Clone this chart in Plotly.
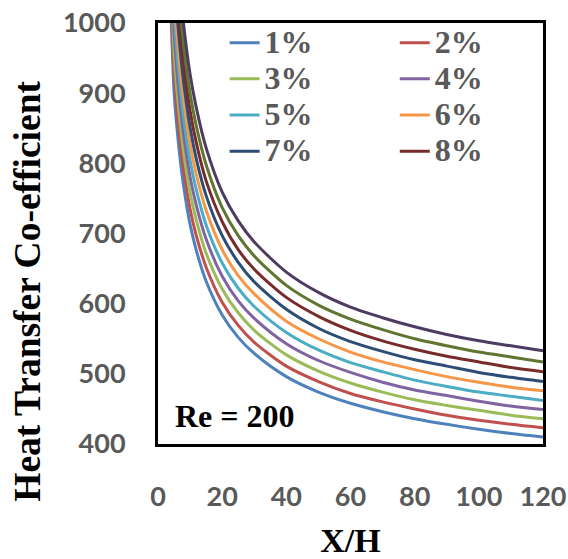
import plotly.graph_objects as go

x_h = [3, 4, 5, 6, 7, 8, 10, 12, 15, 20, 25, 30, 40, 50, 60, 70, 80, 90, 100, 110, 120]

s1 = [1150, 1020, 903, 846, 802, 767, 713, 675, 632, 584, 552, 529, 496, 474, 458, 446, 436, 428, 421, 415, 410]
s2 = [1186, 1052, 931, 872, 827, 791, 735, 696, 652, 602, 569, 545, 511, 489, 472, 460, 450, 441, 434, 428, 423]
s3 = [1222, 1084, 960, 899, 853, 815, 758, 718, 672, 621, 587, 562, 527, 504, 487, 474, 463, 455, 448, 441, 436]
s4 = [1259, 1117, 989, 926, 878, 840, 781, 739, 692, 639, 604, 579, 543, 519, 502, 488, 477, 469, 461, 454, 449]
s5 = [1296, 1150, 1018, 953, 904, 864, 804, 761, 712, 658, 622, 596, 559, 534, 516, 503, 491, 482, 474, 468, 462]
s6 = [1334, 1183, 1047, 981, 930, 890, 827, 783, 733, 677, 640, 614, 575, 550, 531, 517, 506, 496, 488, 481, 476]
s7 = [1372, 1217, 1077, 1009, 957, 915, 851, 805, 754, 697, 659, 631, 592, 565, 546, 532, 520, 511, 502, 495, 489]
s8 = [1411, 1252, 1108, 1038, 984, 941, 875, 828, 775, 717, 677, 649, 609, 582, 562, 547, 535, 525, 517, 509, 503]
s9 = [1451, 1287, 1140, 1068, 1012, 968, 900, 852, 798, 737, 697, 668, 626, 598, 578, 563, 550, 540, 531, 524, 517]
s10 = [1495, 1326, 1174, 1100, 1043, 997, 927, 878, 822, 759, 718, 688, 645, 616, 595, 580, 567, 556, 547, 540, 533]

series_names = ["1%", "2%", "3%", "4%", "5%", "6%", "7%", "8%", "9%", "10%"]
series_vals = [s1, s2, s3, s4, s5, s6, s7, s8, s9, s10]
colors = ["#4F81BD", "#C0504D", "#9BBB59", "#8064A2", "#4BACC6",
          "#F79646", "#2C4D75", "#772C2A", "#5F7530", "#4D3B62"]
# legend column for each series (None = not in legend)
legend_ids = ["legend", "legend2", "legend", "legend2", "legend", "legend2",
              "legend", "legend2", None, None]

x_ticks = [0, 20, 40, 60, 80, 100, 120]
y_ticks = [400, 500, 600, 700, 800, 900, 1000]

fig = go.Figure()
for name, vals, col, leg in zip(series_names, series_vals, colors, legend_ids):
    fig.add_trace(go.Scatter(
        x=x_h, y=vals, mode="lines",
        name="<span style='font-size:32px'>" + name + "</span>",
        line=dict(color=col, width=3, shape="spline", smoothing=0.8),
        showlegend=leg is not None,
        legend=leg if leg is not None else "legend",
    ))

tick_font = dict(family="Lato", size=27, color="#595959", weight="bold")
serif = "Liberation Serif"
legend_font = dict(family=serif, size=25.5, color="#595959", weight="bold")

fig.update_layout(
    width=568, height=559,
    margin=dict(l=158, r=25, t=23, b=115),
    paper_bgcolor="white", plot_bgcolor="white",
    showlegend=True,
    legend=dict(
        orientation="v", x=0.173, y=1.008, xanchor="left", yanchor="top",
        bgcolor="rgba(0,0,0,0)", font=legend_font, itemwidth=30, tracegroupgap=0,
    ),
    legend2=dict(
        orientation="v", x=0.615, y=1.008, xanchor="left", yanchor="top",
        bgcolor="rgba(0,0,0,0)", font=legend_font, itemwidth=30, tracegroupgap=0,
    ),
    xaxis=dict(
        range=[0, 120], tickvals=x_ticks, ticktext=[str(v) for v in x_ticks],
        showgrid=False, zeroline=False, automargin=False,
        showline=True, linecolor="black", linewidth=3, mirror=True,
        ticks="", tickfont=tick_font, ticklabelstandoff=27,
        title=dict(text="X/H", font=dict(family=serif, size=34, color="black", weight="bold"), standoff=24),
    ),
    yaxis=dict(
        range=[400, 1000], tickvals=y_ticks, ticktext=[str(v) for v in y_ticks],
        showgrid=False, zeroline=False, automargin=False,
        showline=True, linecolor="black", linewidth=3, mirror=True,
        ticks="", tickfont=tick_font, ticklabelstandoff=24,
    ),
    annotations=[
        dict(
            text="Re = 200", xref="paper", yref="paper", x=0.039, y=0.067,
            xanchor="left", yanchor="middle", showarrow=False,
            font=dict(family=serif, size=32, color="black", weight="bold"),
        ),
        dict(
            text="Heat Transfer Co-efficient", xref="paper", yref="paper",
            x=-0.340, y=0.362, xanchor="center", yanchor="middle",
            textangle=-90, showarrow=False,
            font=dict(family=serif, size=37.5, color="black", weight="bold"),
        ),
    ],
)

fig.write_html("out.html", config={"displayModeBar": False},
               post_script="document.body.style.margin='0px';")
